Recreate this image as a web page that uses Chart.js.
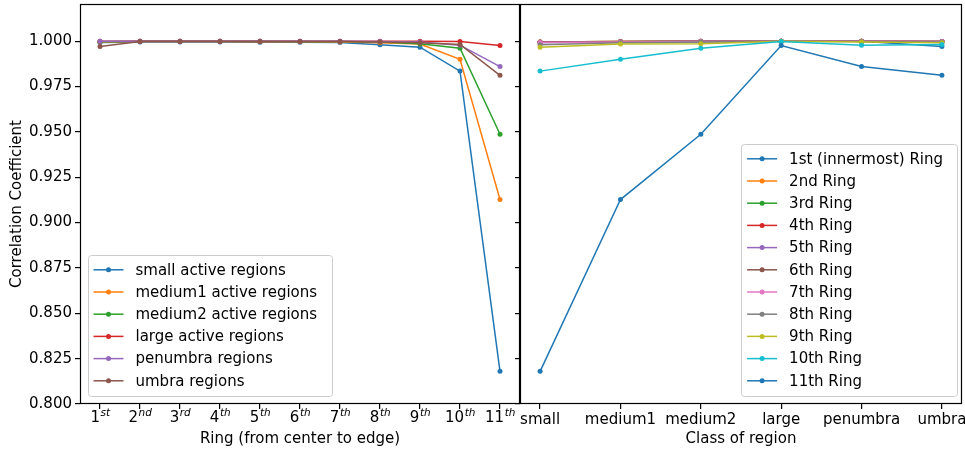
<!DOCTYPE html>
<html><head><meta charset="utf-8">
<script src="https://cdn.jsdelivr.net/npm/chart.js@4.4.1/dist/chart.umd.min.js"></script>
<style>
html,body{margin:0;padding:0;background:#fff;}
#wrap{position:relative;width:965px;height:450px;overflow:hidden;background:#fff;}
#c1{position:absolute;left:0;top:0;}
#c2{position:absolute;left:514px;top:0;}
</style></head><body>
<div id="wrap"><canvas id="c1" width="522" height="450"></canvas><canvas id="c2" width="451" height="450"></canvas></div>
<script>
// ---- data ----
const ringTicks = ['1st','2nd','3rd','4th','5th','6th','7th','8th','9th','10th','11th'];
const ringNames = ['1st (innermost) Ring','2nd Ring','3rd Ring','4th Ring','5th Ring','6th Ring','7th Ring','8th Ring','9th Ring','10th Ring','11th Ring'];
const classTicks = ['small','medium1','medium2','large','penumbra','umbra'];
const classNames = ['small active regions','medium1 active regions','medium2 active regions','large active regions','penumbra regions','umbra regions'];
const yTicks = [0.800,0.825,0.850,0.875,0.900,0.925,0.950,0.975,1.000];

const small    = [0.9993,0.9996,0.9995,0.9995,0.9994,0.9994,0.9993,0.9980,0.9967,0.9835,0.8180];
const medium1  = [0.9996,0.9998,0.9998,0.9998,0.9997,0.9997,0.9996,0.9991,0.9984,0.9900,0.9127];
const medium2  = [0.9997,0.9999,0.9999,0.9999,0.9999,0.9998,0.9998,0.9995,0.9986,0.9961,0.9487];
const large    = [0.9999,1.0000,1.0000,1.0000,1.0000,1.0000,1.0000,1.0000,0.9999,0.9998,0.9976];
const penumbra = [1.0000,0.9999,0.9999,0.9999,0.9999,0.9999,0.9999,0.9998,0.9995,0.9978,0.9860];
const umbra    = [0.9971,0.9998,0.9998,0.9998,0.9998,0.9998,0.9998,0.9996,0.9992,0.9982,0.9812];

const colors = ['#1f77b4','#ff7f0e','#2ca02c','#d62728','#9467bd','#8c564b','#e377c2','#7f7f7f','#bcbd22','#17becf','#1f77b4'];

// ---- build ----
const classSeries = [small, medium1, medium2, large, penumbra, umbra];
const FONT = 'DejaVu Sans';
Chart.defaults.font.family = FONT;
Chart.defaults.font.size = 15;
Chart.defaults.color = '#000';

function mkDataset(label, vals, xs, i, n){
  return {
    label, data: vals.map((v,k)=>({x: xs[k], y: v})),
    borderColor: colors[i], backgroundColor: colors[i],
    pointBackgroundColor: colors[i], pointBorderColor: colors[i],
    borderWidth: 1.5, pointRadius: 2.5, pointBorderWidth: 0, pointHoverRadius: 2.5,
    tension: 0, showLine: true, fill: false, order: n - i
  };
}

const leftDatasets = classSeries.map((s,i)=>mkDataset(classNames[i], s, ringTicks.map((_,k)=>k+1), i, classSeries.length));
const rightDatasets = ringNames.map((name,r)=>mkDataset(name, classSeries.map(s=>s[r]), classTicks.map((_,k)=>k), r, ringNames.length));

function noPad(s){ s.paddingLeft = 0; s.paddingRight = 0; s.paddingTop = 0; s.paddingBottom = 0; }

const framePlugin = {
  id: 'frame',
  afterDraw(chart){
    const a = chart.chartArea, c = chart.ctx;
    c.save(); c.strokeStyle = '#000'; c.lineWidth = 1.2;
    c.strokeRect(Math.round(a.left)+0.5, Math.round(a.top)+0.5, Math.round(a.right-a.left)-1, Math.round(a.bottom-a.top)-1);
    c.restore();
  }
};

// ordinal tick labels with raised italic suffix (like 1^{st})
const supTickPlugin = {
  id: 'supTicks',
  afterDraw(chart){
    const c = chart.ctx, xs = chart.scales.x, a = chart.chartArea;
    c.save();
    c.fillStyle = '#000'; c.textBaseline = 'alphabetic'; c.textAlign = 'left';
    ringTicks.forEach((lab,k) => {
      const m = lab.match(/^(\d+)(\D+)$/);
      const px = xs.getPixelForValue(k+1);
      c.font = '15px "' + FONT + '"';
      const wb = c.measureText(m[1]).width;
      c.font = 'italic 10.5px "' + FONT + '"';
      const ws = c.measureText(m[2]).width;
      const x0 = px - (wb + ws)/2;
      const base = a.bottom + 18;
      c.font = '15px "' + FONT + '"';
      c.fillText(m[1], x0, base);
      c.font = 'italic 10.5px "' + FONT + '"';
      c.fillText(m[2], x0 + wb + 0.5, base - 6.5);
    });
    c.restore();
  }
};

function legendPlugin(corner){
  return {
    id: 'mplLegend',
    afterDraw(chart){
      const c = chart.ctx, a = chart.chartArea, ds = chart.data.datasets;
      c.save();
      c.font = '15px "' + FONT + '"';
      let maxW = 0;
      ds.forEach(d => { maxW = Math.max(maxW, c.measureText(d.label).width); });
      const rowH = 22.2, pad = 6, padR = 14, handle = 30, gap = 12;
      const w = pad + handle + gap + maxW + padR;
      const h = ds.length * rowH + 8;
      const x = corner === 'bl' ? a.left + 7.5 : a.right - 5 - w;
      const y = a.bottom - 7.5 - h;
      c.fillStyle = 'rgba(255,255,255,0.8)';
      c.strokeStyle = '#cccccc'; c.lineWidth = 1;
      c.beginPath();
      c.roundRect(Math.round(x)+0.5, Math.round(y)+0.5, Math.round(w), Math.round(h), 3);
      c.fill(); c.stroke();
      ds.forEach((d,i) => {
        const cy = y + 14.5 + i*rowH;
        const hx = x + pad;
        c.strokeStyle = d.borderColor; c.lineWidth = 1.5;
        c.beginPath(); c.moveTo(hx, cy); c.lineTo(hx+handle, cy); c.stroke();
        c.fillStyle = d.borderColor;
        c.beginPath(); c.arc(hx+handle/2, cy, 2.5, 0, Math.PI*2); c.fill();
        c.fillStyle = '#000'; c.textBaseline = 'middle'; c.textAlign = 'left';
        c.fillText(d.label, hx + handle + gap, cy + 1);
      });
      c.restore();
    }
  };
}

const gridTicks = { display: true, drawOnChartArea: false, drawTicks: true, tickLength: 5, color: '#000', lineWidth: 1.2 };

new Chart(document.getElementById('c1'), {
  type: 'scatter',
  data: { datasets: leftDatasets },
  options: {
    responsive: false, animation: false, devicePixelRatio: 1,
    layout: { autoPadding: false, padding: { top: 4, right: 2, left: 0, bottom: 0 } },
    plugins: { legend: { display: false }, tooltip: { enabled: false } },
    scales: {
      x: {
        type: 'linear', min: 0.5, max: 11.5,
        afterBuildTicks: s => { s.ticks = ringTicks.map((_,k)=>({value: k+1})); },
        afterFit: s => { s.height = 46; noPad(s); },
        ticks: { display: false },
        grid: gridTicks, border: { display: false },
        title: { display: true, text: 'Ring (from center to edge)', font: { size: 15 }, padding: { top: 0, bottom: 2 } }
      },
      y: {
        type: 'linear', min: 0.8, max: 1.0205,
        afterBuildTicks: s => { s.ticks = yTicks.map(v=>({value: v})); },
        afterFit: s => { s.width = 80; noPad(s); },
        ticks: { callback: v => v.toFixed(3), padding: 3, font: { size: 15 } },
        grid: gridTicks, border: { display: false },
        title: { display: true, text: 'Correlation Coefficient', font: { size: 15 }, padding: { top: 8, bottom: 0 } }
      }
    }
  },
  plugins: [framePlugin, supTickPlugin, legendPlugin('bl')]
});

new Chart(document.getElementById('c2'), {
  type: 'scatter',
  data: { datasets: rightDatasets },
  options: {
    responsive: false, animation: false, devicePixelRatio: 1,
    layout: { autoPadding: false, padding: { top: 4, right: 3, left: 0, bottom: 0 } },
    plugins: { legend: { display: false }, tooltip: { enabled: false } },
    scales: {
      x: {
        type: 'linear', min: -0.25, max: 5.25,
        afterBuildTicks: s => { s.ticks = classTicks.map((_,k)=>({value: k})); },
        afterFit: s => { s.height = 46; noPad(s); },
        ticks: { callback: (v) => classTicks[Math.round(v)], maxRotation: 0, autoSkip: false, padding: 2, font: { size: 15 } },
        grid: gridTicks, border: { display: false },
        title: { display: true, text: 'Class of region', font: { size: 15 }, padding: { top: 0, bottom: 2 } }
      },
      y: {
        type: 'linear', min: 0.8, max: 1.0205,
        afterBuildTicks: s => { s.ticks = yTicks.map(v=>({value: v})); },
        afterFit: s => { s.width = 6; noPad(s); },
        ticks: { display: false },
        grid: gridTicks, border: { display: false }
      }
    }
  },
  plugins: [framePlugin, legendPlugin('br')]
});
</script>
</body></html>
